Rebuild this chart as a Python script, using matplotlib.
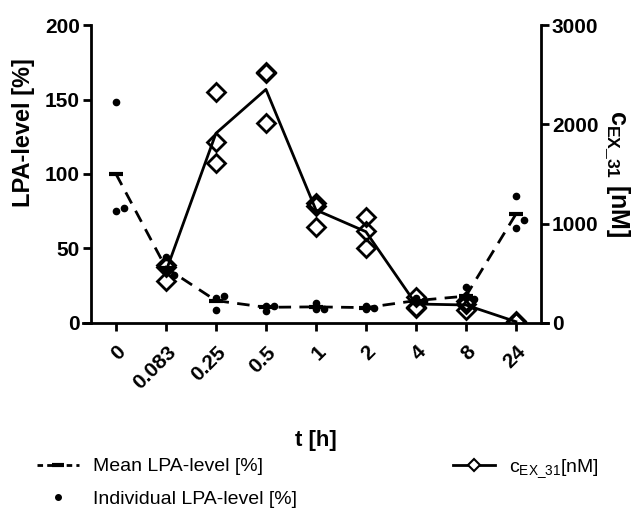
import numpy as np
import matplotlib.pyplot as plt

plt.rcParams['font.family'] = ['Liberation Sans', 'DejaVu Sans']
plt.rcParams['mathtext.fontset'] = 'custom'
plt.rcParams['mathtext.rm'] = 'Liberation Sans'
plt.rcParams['mathtext.bf'] = 'Liberation Sans:bold'

times = ['0', '0.083', '0.25', '0.5', '1', '2', '4', '8', '24']

# LPA-level [%], left axis
lpa_mean = [100, 37, 15, 10.5, 10.8, 10.3, 15, 18, 73]
lpa_ind = [
    [148, 75, 77],
    [44.5, 35.5, 32],
    [17, 9, 18],
    [11.5, 8, 11.5],
    [13.6, 9.4, 9.4],
    [11.4, 9.4, 10],
    [16.5, 14, 15],
    [24, 16.5, 16],
    [85, 64, 69],
]

# c_EX_31 [nM], right axis (no value at t=0)
cex_mean = [520, 1910, 2352, 1138, 919, 191, 181, 13]
cex_ind = [
    [580, 420, 560],
    [2330, 1825, 1607],
    [2520, 2010, 2525],
    [1205, 1178, 970],
    [1070, 929, 752],
    [258, 150, 165],
    [225, 131, 187],
    [20, 10, 10],
]

jitter = [0.0, 0.0, 0.17]

fig = plt.figure(figsize=(6.39, 5.11), dpi=100)
ax = fig.add_axes([0.1424, 0.368, 0.704, 0.583])
ax2 = ax.twinx()

x = np.arange(len(times))

# individual LPA dots
for i, vals in enumerate(lpa_ind):
    ax.plot(x[i] + np.array(jitter), vals, 'o', color='black', ms=4.5, zorder=3)

# mean LPA line
ax.plot(x, lpa_mean, color='black', lw=2, ls=(0, (4.5, 3)),
        marker='_', ms=10, mew=3, zorder=4)

# c_EX_31 diamonds + mean line
for i, vals in enumerate(cex_ind):
    ax2.plot([x[i + 1]] * len(vals), vals, 'D', mfc='white', mec='black',
             mew=2, ms=9, zorder=3, fillstyle='none')
ax2.plot(x[1:], cex_mean, color='black', lw=2, zorder=4)

ax.set_xlim(-0.5, len(times) - 0.5)
ax.set_ylim(0, 200)
ax2.set_ylim(0, 3000)
ax.set_yticks([0, 50, 100, 150, 200])
ax2.set_yticks([0, 1000, 2000, 3000])
ax.set_xticks(x)
ax.set_xticklabels(times, rotation=45, ha='right', rotation_mode='anchor')

for a in (ax, ax2):
    a.spines['top'].set_visible(False)
    for s in ('left', 'right', 'bottom'):
        a.spines[s].set_linewidth(2)
    a.tick_params(width=2, length=6, labelsize=15, pad=2)
    for lab in a.get_xticklabels() + a.get_yticklabels():
        lab.set_fontweight('bold')
ax.tick_params(axis='x', pad=8)
ax.spines['right'].set_visible(False)
ax.spines['bottom'].set_bounds(-0.65, 8.65)
ax2.spines['left'].set_visible(False)
ax2.spines['bottom'].set_visible(False)

ax.set_ylabel('LPA-level [%]', fontsize=17, fontweight='bold')
ax.yaxis.set_label_coords(-0.125, 0.64)
ax2.set_ylabel(r'c$_{\mathbf{EX\_31}}$ [nM]', fontsize=18, fontweight='bold',
               rotation=-90, labelpad=24)
ax.set_xlabel('t [h]', fontsize=16, fontweight='bold')
ax.xaxis.set_label_coords(0.5, -0.36)

ind_handle = plt.Line2D([], [], ls='none', marker='o', color='black', ms=4)
c_handle = plt.Line2D([], [], color='black', lw=2, marker='D', mfc='white',
                      mec='black', mew=1.5, ms=6)
mean_handle = plt.Line2D([], [], color='black', lw=2, ls=(0, (2, 1.5)),
                         marker='_', ms=8, mew=3)
fig.legend([mean_handle, ind_handle, c_handle],
           ['Mean LPA-level [%]', 'Individual LPA-level [%]', r'c$_{\mathrm{EX\_31}}$[nM]'],
           ncol=2, loc='upper left', bbox_to_anchor=(0.03, 0.14),
           frameon=False, fontsize=14, handlelength=2.2, columnspacing=8.0,
           labelspacing=0.75, handletextpad=0.7)

fig.savefig('out.png', dpi=100)
